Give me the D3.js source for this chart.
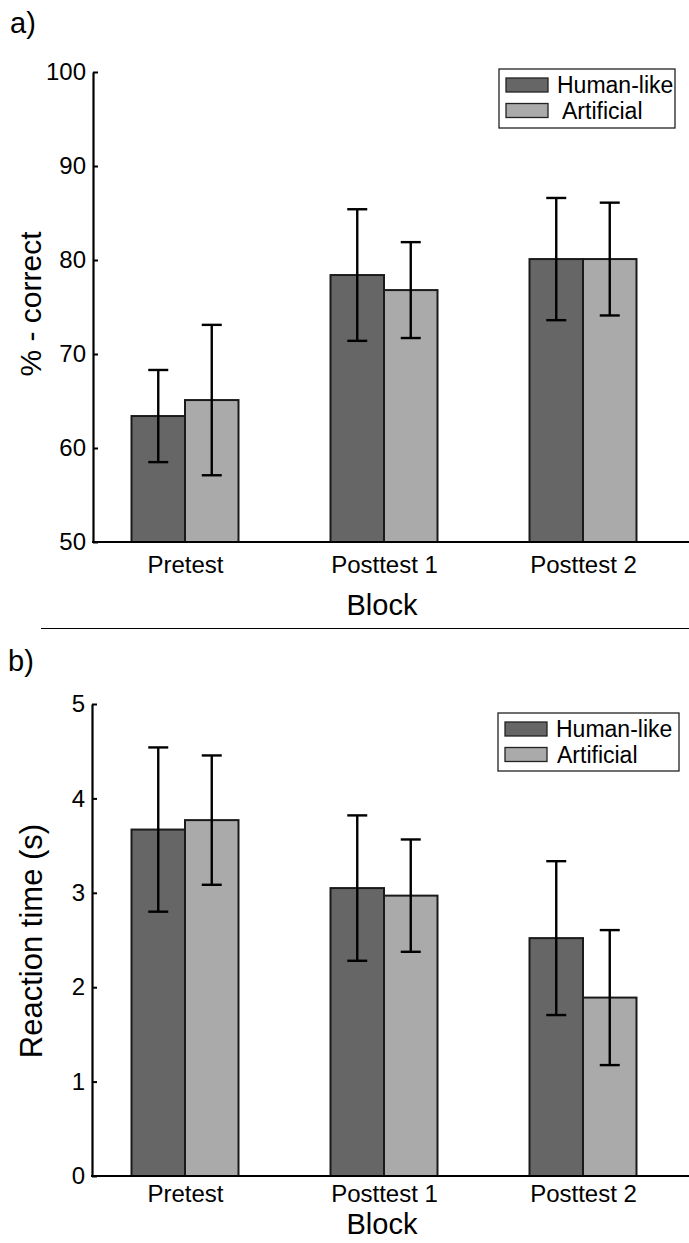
<!DOCTYPE html>
<html>
<head>
<meta charset="utf-8">
<script src="https://cdn.jsdelivr.net/npm/d3@7"></script>
<style>
	body { margin: 0; background: #fff; }
	svg { display: block; font-family: "Liberation Sans", Arial, Helvetica, sans-serif; }
</style>
</head>
<body>
<svg class="chart" width="689" height="1243"></svg>
<script>
var width = 689,
	height = 1243;

// data
var categories = ['Pretest', 'Posttest 1', 'Posttest 2'];
var seriesNames = ['Human-like', 'Artificial'];
var seriesColors = ['#666666', '#aaaaaa'];

var accHuman = [63.4, 78.4, 80.1];
var accHumanErr = [4.9, 7.0, 6.5];
var accArtificial = [65.1, 76.8, 80.1];
var accArtificialErr = [8.0, 5.1, 6.0];
var accTicks = [50, 60, 70, 80, 90, 100];

var rtHuman = [3.67, 3.05, 2.52];
var rtHumanErr = [0.87, 0.77, 0.815];
var rtArtificial = [3.77, 2.97, 1.89];
var rtArtificialErr = [0.685, 0.595, 0.715];
var rtTicks = [0, 1, 2, 3, 4, 5];

var svg = d3.select('.chart');

var barW = 53.5;
var xScale = d3.scalePoint()
	.domain(categories)
	.range([185, 583]);

function panel(opts) {
	var g = svg.append('g');
	var y = d3.scaleLinear().domain(opts.domain).range([opts.bottom, opts.top]);

	// bars
	var rows = [];
	categories.forEach(function(c, i) {
		rows.push({cat: c, s: 0, v: opts.human[i], e: opts.humanErr[i]});
		rows.push({cat: c, s: 1, v: opts.art[i], e: opts.artErr[i]});
	});

	g.selectAll('rect.bar')
		.data(rows)
		.enter()
		.append('rect')
		.attr('class', 'bar')
		.attr('x', d => xScale(d.cat) + (d.s - 1) * barW)
		.attr('width', barW)
		.attr('y', d => y(d.v))
		.attr('height', d => y(opts.domain[0]) - y(d.v))
		.attr('fill', d => seriesColors[d.s])
		.attr('stroke', '#1a1a1a')
		.attr('stroke-width', 2);

	// error bars
	var eb = g.selectAll('g.err')
		.data(rows)
		.enter()
		.append('g')
		.attr('class', 'err')
		.attr('transform', d => 'translate(' + (xScale(d.cat) + (d.s - 0.5) * barW) + ',0)')
		.attr('stroke', '#000')
		.attr('stroke-width', 2.4);
	eb.append('line')
		.attr('y1', d => y(d.v - d.e))
		.attr('y2', d => y(d.v + d.e));
	eb.append('line')
		.attr('x1', -10).attr('x2', 10)
		.attr('y1', d => y(d.v + d.e)).attr('y2', d => y(d.v + d.e));
	eb.append('line')
		.attr('x1', -10).attr('x2', 10)
		.attr('y1', d => y(d.v - d.e)).attr('y2', d => y(d.v - d.e));

	// y axis
	var yAxis = g.append('g')
		.attr('transform', 'translate(' + opts.axisX + ',0)')
		.call(d3.axisLeft(y).tickValues(opts.ticks).tickFormat(d3.format('d'))
			.tickSizeInner(-5).tickSizeOuter(0).tickPadding(7));
	yAxis.select('.domain').attr('stroke-width', 2.2);
	yAxis.selectAll('.tick line').attr('stroke-width', 2);
	yAxis.selectAll('text').attr('font-size', 24).attr('fill', '#000').attr('font-family', null);

	// x axis line (runs to edge)
	g.append('line')
		.attr('x1', opts.axisX - 1).attr('x2', width)
		.attr('y1', opts.bottom).attr('y2', opts.bottom)
		.attr('stroke', '#000')
		.attr('stroke-width', 2.2);

	var xAxis = g.append('g')
		.attr('transform', 'translate(0,' + opts.bottom + ')')
		.call(d3.axisBottom(xScale).tickSize(0).tickPadding(opts.labelPad));
	xAxis.select('.domain').remove();
	xAxis.selectAll('text').attr('font-size', 24).attr('fill', '#000').attr('font-family', null);

	// axis titles
	g.append('text')
		.attr('text-anchor', 'middle')
		.attr('x', 382)
		.attr('y', opts.blockY)
		.attr('font-size', 29)
		.text('Block');

	g.append('text')
		.attr('text-anchor', 'middle')
		.attr('transform', 'translate(' + opts.titleX + ',' + opts.titleY + ') rotate(-90)')
		.attr('font-size', opts.titleSize)
		.text(opts.title);

	// panel letter
	g.append('text')
		.attr('x', opts.letterX)
		.attr('y', opts.letterY)
		.attr('font-size', 29)
		.text(opts.letter);

	// legend
	var lg = g.append('g');
	lg.append('rect')
		.attr('x', opts.leg.x).attr('y', opts.leg.y)
		.attr('width', opts.leg.w).attr('height', opts.leg.h)
		.attr('fill', '#fff')
		.attr('stroke', '#222')
		.attr('stroke-width', 1.3);
	var items = lg.selectAll('g.item')
		.data(seriesNames)
		.enter()
		.append('g')
		.attr('transform', (d, i) => 'translate(' + opts.leg.x + ',' + (opts.leg.y + 16 + i * 25.5) + ')');
	items.append('rect')
		.attr('x', 7).attr('y', -7)
		.attr('width', 42).attr('height', 14)
		.attr('fill', (d, i) => seriesColors[i])
		.attr('stroke', '#222')
		.attr('stroke-width', 1.3);
	items.append('text')
		.attr('x', (d, i) => 58 + i * opts.leg.indent)
		.attr('y', 8)
		.attr('font-size', 23)
		.text(d => d);
}

panel({
	domain: [50, 100], top: 72, bottom: 542, axisX: 93, ticks: accTicks,
	human: accHuman, humanErr: accHumanErr, art: accArtificial, artErr: accArtificialErr,
	labelPad: 14, blockY: 615,
	title: '% - correct', titleX: 41, titleY: 304, titleSize: 30,
	letter: 'a)', letterX: 10, letterY: 33,
	leg: {x: 499, y: 69, w: 176, h: 59, indent: 5}
});

panel({
	domain: [0, 5], top: 704, bottom: 1176, axisX: 92, ticks: rtTicks,
	human: rtHuman, humanErr: rtHumanErr, art: rtArtificial, artErr: rtArtificialErr,
	labelPad: 9, blockY: 1234,
	title: 'Reaction time (s)', titleX: 42, titleY: 941, titleSize: 31,
	letter: 'b)', letterX: 8, letterY: 671,
	leg: {x: 498, y: 713, w: 181, h: 58, indent: 1}
});

// separator between panels
svg.append('line')
	.attr('x1', 41).attr('x2', width)
	.attr('y1', 628.5).attr('y2', 628.5)
	.attr('stroke', '#000')
	.attr('stroke-width', 1.2);
</script>
</body>
</html>
